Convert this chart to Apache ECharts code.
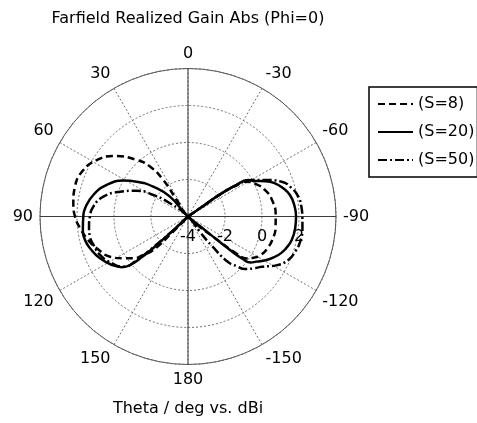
<!DOCTYPE html>
<html>
<head>
<meta charset="utf-8">
<script src="https://cdn.jsdelivr.net/npm/echarts@6/dist/echarts.min.js"></script>
<style>
  html, body { margin: 0; padding: 0; background: #fff; }
  #chart { width: 477px; height: 423px; }
</style>
</head>
<body>
<div id="chart"></div>
<script>
// Farfield realized gain (dBi) versus theta (deg), phi = 0 cut.
// Each trace runs through the centre, around the right lobe, back through
// the centre and around the left lobe. Gains at or below -4 dBi sit on the centre.

const seriesNames = ['(S=8)', '(S=20)', '(S=50)'];

const thetaS8 = [-54.5, -55.3, -55.5, -57, -58.6, -64.5, -71, -78.9, -89, -97, -105.6, -111, -117.2, -122, -125.5, -127.3, -128.3, -128.4,
                 34, 34.4, 34.1, 37.3, 42.2, 51, 58.3, 66.1, 75.2, 83.4, 90, 96.5, 103.3, 110, 117.3, 122.9, 127.4, 131, 134, 135.5, 136];
const gainS8  = [-4, -2.9, -1.8, -1.0, -0.39, 0.07, 0.40, 0.63, 0.74, 0.77, 0.73, 0.64, 0.48, 0.2, -0.1, -0.7, -1.8, -4,
                 -4, -2.92, -1.62, -0.61, 0.13, 1.2, 1.8, 2.19, 2.32, 2.24, 2.11, 1.85, 1.54, 1.18, 0.74, 0.16, -0.28, -0.9, -1.39, -2.8, -4];

const thetaS20 = [-54.5, -55.3, -55.3, -56.8, -58.7, -62.1, -65.5, -69.1, -73.5, -78.1, -84, -90, -96, -102.8, -108, -113.1, -119, -123.5, -126.3, -127.8, -128.5, -128.8, -128.6, -128.5,
                  38.5, 42.3, 49.3, 55.8, 61, 68.8, 77.2, 85.4, 90, 96.5, 102.9, 109, 115.4, 122, 127.5, 130, 131.5, 132.2, 133, 133.5];
const gainS20  = [-4, -2.9, -1.8, -0.96, -0.2, 0.10, 0.6, 1.03, 1.37, 1.63, 1.78, 1.84, 1.83, 1.75, 1.57, 1.31, 0.85, 0.42, 0.2, -0.25, -0.95, -1.69, -2.9, -4,
                  -4, -2.55, -1.53, -0.65, 0.0, 0.71, 1.25, 1.58, 1.66, 1.72, 1.71, 1.53, 1.27, 0.9, 0.5, 0.1, -0.8, -1.57, -2.8, -4];

const thetaS50 = [-54.5, -55.3, -55.5, -57.2, -60.2, -64.9, -69.6, -74.5, -79.8, -85, -90, -96, -102.7, -108, -113.4, -119, -124.3, -128.7, -132.6, -135.6, -138.7, -140.9, -142.3, -142.5,
                  50, 53.7, 58.2, 63.3, 70, 76.8, 84.1, 90, 96, 101.6, 107, 113.6, 121, 127.8, 130.5, 131.5, 133, 133.5];
const gainS50  = [-4, -2.9, -1.8, -0.9, -0.03, 0.65, 1.40, 1.8, 2.06, 2.15, 2.18, 2.22, 2.21, 2.1, 1.91, 1.45, 0.82, 0.5, 0.19, -0.25, -0.72, -1.94, -2.94, -4,
                  -4, -2.79, -1.79, -0.9, -0.09, 0.70, 1.15, 1.30, 1.38, 1.41, 1.33, 1.19, 0.85, 0.43, -0.4, -1.6, -2.8, -4];

// Angle tick labels, counter-clockwise from the top; radial ticks in dBi.
const angleTickLabels = [0, 30, 60, 90, 120, 150, 180, -150, -120, -90, -60, -30];
const radiusTicks = [-4, -2, 0, 2];

const FONT = 'DejaVu Sans';

// The angle axis starts at the right (-90) so the radial labels run along +x.
function toAxisAngle(t) { return t < -90 ? t + 360 : t; }
function makeData(thetas, gains) {
  return thetas.map((t, i) => [gains[i], toAxisAngle(t)]);
}

const center = [188, 216.5];
const radius = 148;

const chart = echarts.init(document.getElementById('chart'), null, { renderer: 'canvas' });

chart.setOption({
  animation: false,
  backgroundColor: '#fff',
  title: [
    {
      text: 'Farfield Realized Gain Abs (Phi=0)',
      left: 188, top: 19, padding: 0,
      textAlign: 'center', textVerticalAlign: 'middle',
      textStyle: { fontFamily: FONT, fontSize: 16, fontWeight: 'normal', color: '#000' }
    },
    {
      text: 'Theta / deg vs. dBi',
      left: 188, top: 409, padding: 0,
      textAlign: 'center', textVerticalAlign: 'middle',
      textStyle: { fontFamily: FONT, fontSize: 16, fontWeight: 'normal', color: '#000' }
    }
  ],
  legend: {
    data: seriesNames,
    orient: 'vertical',
    left: 369, top: 87,
    itemWidth: 35, itemHeight: 14, itemGap: 12,
    padding: [9, 3, 9, 8],
    borderColor: '#000', borderWidth: 1.5,
    itemStyle: { color: 'transparent', borderWidth: 0, opacity: 0 },
    textStyle: { fontFamily: FONT, fontSize: 16, color: '#000' }
  },
  polar: [
    { center: center, radius: radius },
    { center: center, radius: radius }
  ],
  angleAxis: [
    {
      polarIndex: 0,
      type: 'value', min: -90, max: 270, interval: 30,
      startAngle: 0, clockwise: false,
      axisLine: { lineStyle: { color: '#5a5a5a', width: 1 } },
      axisTick: { show: false },
      axisLabel: {
        margin: 7,
        fontFamily: FONT, fontSize: 16, color: '#000',
        formatter: v => String(angleTickLabels[((Math.round(v / 30) % 12) + 12) % 12])
      },
      splitLine: { show: true, lineStyle: { color: '#707070', width: 1, type: [2, 2] } }
    },
    {
      polarIndex: 1, z: 1,
      type: 'value', min: -90, max: 270, interval: 90,
      startAngle: 0, clockwise: false,
      axisLine: { show: false },
      axisTick: { show: false },
      axisLabel: { show: false },
      splitLine: { show: true, lineStyle: { color: '#3c3c3c', width: 1 } }
    }
  ],
  radiusAxis: [
    {
      polarIndex: 0,
      type: 'value', min: radiusTicks[0], max: 4, interval: 2,
      axisLine: { show: false },
      axisTick: { show: false },
      axisLabel: {
        showMaxLabel: false,
        margin: -20.5,
        align: 'center', verticalAlign: 'middle',
        fontFamily: FONT, fontSize: 16, color: '#000',
        formatter: v => radiusTicks.includes(v) ? String(v) : ''
      },
      splitLine: { show: true, lineStyle: { color: '#707070', width: 1, type: [2, 2] } }
    },
    {
      polarIndex: 1,
      type: 'value', min: -4, max: 4,
      show: false
    }
  ],
  series: [
    {
      name: seriesNames[0], type: 'line', coordinateSystem: 'polar', polarIndex: 0,
      data: makeData(thetaS8, gainS8),
      symbol: 'none', smooth: 0.5,
      lineStyle: { color: '#000', width: 2.5, type: [7, 4] },
      itemStyle: { color: '#000' }
    },
    {
      name: seriesNames[1], type: 'line', coordinateSystem: 'polar', polarIndex: 0,
      data: makeData(thetaS20, gainS20),
      symbol: 'none', smooth: 0.5,
      lineStyle: { color: '#000', width: 2.5, type: 'solid' },
      itemStyle: { color: '#000' }
    },
    {
      name: seriesNames[2], type: 'line', coordinateSystem: 'polar', polarIndex: 0,
      data: makeData(thetaS50, gainS50),
      symbol: 'none', smooth: 0.5,
      lineStyle: { color: '#000', width: 2.5, type: [9, 3, 2, 3] },
      itemStyle: { color: '#000' }
    }
  ]
});
</script>
</body>
</html>
